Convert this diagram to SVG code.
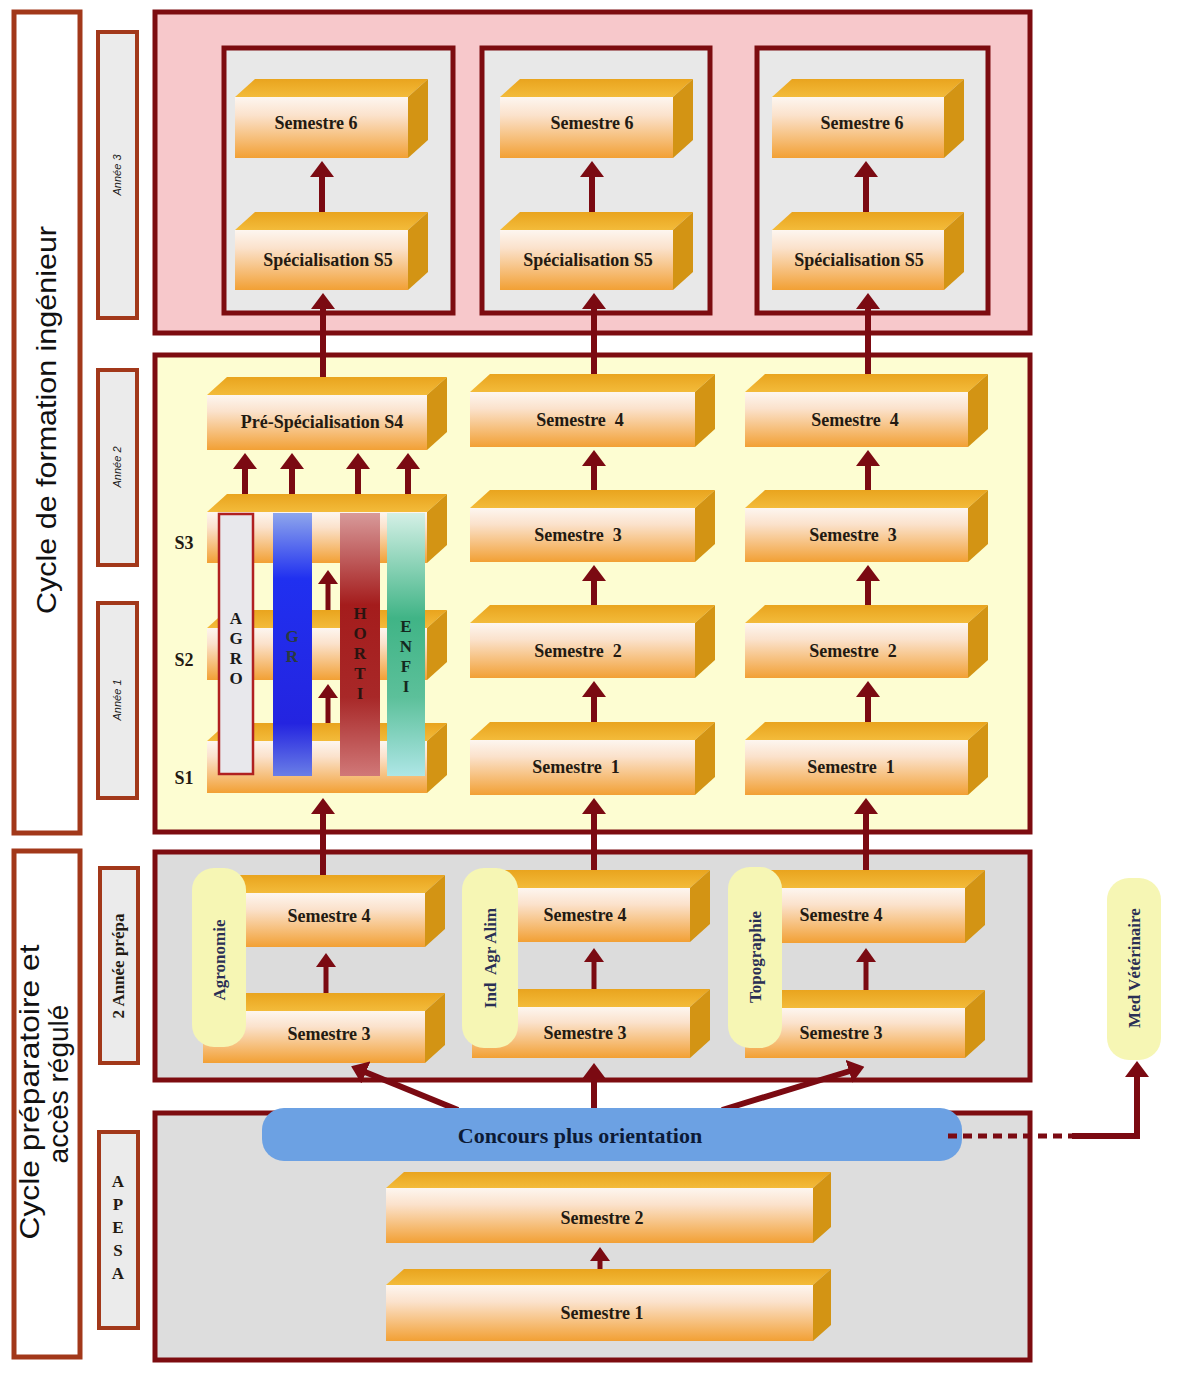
<svg xmlns="http://www.w3.org/2000/svg" width="1186" height="1395" viewBox="0 0 1186 1395">
<defs>
<linearGradient id="gFront" x1="0" y1="0" x2="0" y2="1">
<stop offset="0" stop-color="#fdf6f0"/><stop offset="0.3" stop-color="#fbe2cc"/><stop offset="1" stop-color="#f2a034"/>
</linearGradient>
<linearGradient id="gTop" x1="0" y1="0" x2="0" y2="1">
<stop offset="0" stop-color="#e9a41e"/><stop offset="1" stop-color="#f3bb3a"/>
</linearGradient>
<linearGradient id="gGR" x1="0" y1="0" x2="0" y2="1">
<stop offset="0" stop-color="#8ea6ec"/><stop offset="0.25" stop-color="#2030f0"/><stop offset="0.8" stop-color="#2424e0"/><stop offset="1" stop-color="#6a7ee6"/>
</linearGradient>
<linearGradient id="gHO" x1="0" y1="0" x2="0" y2="1">
<stop offset="0" stop-color="#d89a9a"/><stop offset="0.35" stop-color="#a41c1c"/><stop offset="0.7" stop-color="#a82828"/><stop offset="1" stop-color="#d07878"/>
</linearGradient>
<linearGradient id="gEN" x1="0" y1="0" x2="0" y2="1">
<stop offset="0" stop-color="#d4f0e6"/><stop offset="0.4" stop-color="#40b486"/><stop offset="0.7" stop-color="#5cc09a"/><stop offset="1" stop-color="#aee6e6"/>
</linearGradient>
<marker id="ah" viewBox="0 0 16 24" refX="1" refY="12" markerWidth="16" markerHeight="24" markerUnits="userSpaceOnUse" orient="auto">
<path d="M0,0 L16,12 L0,24 z" fill="#7b0a12"/>
</marker>
<marker id="ahs" viewBox="0 0 14 20" refX="1" refY="10" markerWidth="14" markerHeight="20" markerUnits="userSpaceOnUse" orient="auto">
<path d="M0,0 L14,10 L0,20 z" fill="#7b0a12"/>
</marker>
</defs>
<style>
.sec{stroke:#7d0c10;stroke-width:5}
.lab{fill:#ffffff;stroke:#a2381a;stroke-width:5}
.labs{fill:#ebebeb;stroke:#a2381a;stroke-width:4}
.front{fill:url(#gFront)}
.top{fill:url(#gTop)}
.side{fill:#d39414}
.bt{font-family:"Liberation Serif",serif;font-weight:bold;font-size:18px;fill:#231a12;text-anchor:middle;white-space:pre}
.big{font-family:"Liberation Sans",sans-serif;font-size:28px;fill:#111;text-anchor:middle}
.ann{font-family:"Liberation Sans",sans-serif;font-style:italic;font-size:11px;fill:#222;text-anchor:middle}
.pill{fill:#f6f6b4}
.pt{font-family:"Liberation Serif",serif;font-weight:bold;font-size:17px;fill:#2a2f55;text-anchor:middle;white-space:pre}
.ar{stroke:#7b0a12;stroke-width:6;fill:none;marker-end:url(#ah)}
.ars{stroke:#7b0a12;stroke-width:5;fill:none;marker-end:url(#ahs)}
.vt{font-family:"Liberation Serif",serif;font-weight:bold;font-size:17px;text-anchor:middle}
</style>
<rect width="1186" height="1395" fill="#ffffff"/>

<!-- left labels -->
<g id="lab-cycle-ing"><rect class="lab" x="14" y="12" width="66" height="821"/>
<text class="big" transform="translate(56,420) rotate(-90)" textLength="388" lengthAdjust="spacingAndGlyphs">Cycle de formation ingénieur</text></g>
<g id="lab-cycle-prep"><rect class="lab" x="14" y="851" width="66" height="506"/>
<text class="big" transform="translate(39,1092) rotate(-90)" textLength="295" lengthAdjust="spacingAndGlyphs">Cycle préparatoire et</text>
<text class="big" transform="translate(68,1084) rotate(-90)">accès régulé</text></g>
<g id="lab-annee3"><rect class="labs" x="98" y="32" width="39" height="286"/><text class="ann" transform="translate(121,175) rotate(-90)">Année 3</text></g>
<g id="lab-annee2"><rect class="labs" x="98" y="370" width="39" height="195"/><text class="ann" transform="translate(121,467) rotate(-90)">Année 2</text></g>
<g id="lab-annee1"><rect class="labs" x="98" y="603" width="39" height="195"/><text class="ann" transform="translate(121,700) rotate(-90)">Année 1</text></g>
<g id="lab-prepa"><rect class="labs" x="100" y="868" width="38" height="195"/><text class="vt" fill="#231a12" font-size="16" transform="translate(124,966) rotate(-90)">2 Année prépa</text></g>
<g id="lab-apesa"><rect class="labs" x="99" y="1132" width="39" height="196"/>
<text class="vt" fill="#231a12"><tspan x="118" y="1187">A</tspan><tspan x="118" y="1210">P</tspan><tspan x="118" y="1233">E</tspan><tspan x="118" y="1256">S</tspan><tspan x="118" y="1279">A</tspan></text></g>

<!-- sections -->
<g id="sec-annee3">
<rect class="sec" x="155" y="12" width="875" height="321" fill="#f7c8cb"/>
<rect class="sec" x="224" y="48" width="229" height="265" fill="#e8e8e8"/>
<rect class="sec" x="482" y="48" width="228" height="265" fill="#e8e8e8"/>
<rect class="sec" x="757" y="48" width="231" height="265" fill="#e8e8e8"/>
</g>
<rect id="sec-annee12" class="sec" x="155" y="355" width="875" height="477" fill="#fdfdd2"/>
<rect id="sec-prepa" class="sec" x="155" y="852" width="875" height="228" fill="#dcdcdc"/>
<rect id="sec-apesa" class="sec" x="155" y="1113" width="875" height="247" fill="#dddddd"/>

<!-- pink section boxes -->
<g id="c1-s6"><polygon class="top" points="235,97 255,79 428,79 408,97"/><polygon class="side" points="408,97 428,79 428,140 408,158"/><rect class="front" x="235" y="97" width="173" height="61"/><text class="bt" x="316" y="129">Semestre 6</text></g>
<g id="c1-s5"><polygon class="top" points="235,230 255,212 428,212 408,230"/><polygon class="side" points="408,230 428,212 428,272 408,290"/><rect class="front" x="235" y="230" width="173" height="60"/><text class="bt" x="328" y="266">Spécialisation S5</text></g>
<g id="c2-s6"><polygon class="top" points="500,97 520,79 693,79 673,97"/><polygon class="side" points="673,97 693,79 693,140 673,158"/><rect class="front" x="500" y="97" width="173" height="61"/><text class="bt" x="592" y="129">Semestre 6</text></g>
<g id="c2-s5"><polygon class="top" points="500,230 520,212 693,212 673,230"/><polygon class="side" points="673,230 693,212 693,272 673,290"/><rect class="front" x="500" y="230" width="173" height="60"/><text class="bt" x="588" y="266">Spécialisation S5</text></g>
<g id="c3-s6"><polygon class="top" points="772,97 792,79 964,79 944,97"/><polygon class="side" points="944,97 964,79 964,140 944,158"/><rect class="front" x="772" y="97" width="172" height="61"/><text class="bt" x="862" y="129">Semestre 6</text></g>
<g id="c3-s5"><polygon class="top" points="772,230 792,212 964,212 944,230"/><polygon class="side" points="944,230 964,212 964,272 944,290"/><rect class="front" x="772" y="230" width="172" height="60"/><text class="bt" x="859" y="266">Spécialisation S5</text></g>

<!-- yellow section col1 -->
<g id="c1-s3"><polygon class="top" points="207,512 227,494 447,494 427,512"/><polygon class="side" points="427,512 447,494 447,545 427,563"/><rect class="front" x="207" y="512" width="220" height="51"/></g>
<g id="c1-s2"><polygon class="top" points="207,628 227,610 447,610 427,628"/><polygon class="side" points="427,628 447,610 447,662 427,680"/><rect class="front" x="207" y="628" width="220" height="52"/></g>
<g id="c1-s1"><polygon class="top" points="207,741 227,723 447,723 427,741"/><polygon class="side" points="427,741 447,723 447,775 427,793"/><rect class="front" x="207" y="741" width="220" height="52"/></g>
<g id="c1-s4"><polygon class="top" points="207,395 227,377 447,377 427,395"/><polygon class="side" points="427,395 447,377 447,432 427,450"/><rect class="front" x="207" y="395" width="220" height="55"/><text class="bt" x="322" y="428">Pré-Spécialisation S4</text></g>
<g id="s-labels"><text class="bt" x="184" y="549">S3</text><text class="bt" x="184" y="666">S2</text><text class="bt" x="184" y="784">S1</text></g>
<g id="bar-agro"><rect x="219" y="514" width="34" height="260" fill="#e8e8ec" stroke="#b02020" stroke-width="2.5"/>
<text class="vt" fill="#1a1a1a"><tspan x="236" y="624">A</tspan><tspan x="236" y="644">G</tspan><tspan x="236" y="664">R</tspan><tspan x="236" y="684">O</tspan></text></g>
<g id="bar-gr"><rect x="273" y="513" width="39" height="263" fill="url(#gGR)"/>
<text class="vt" fill="#2a3a40"><tspan x="292" y="642">G</tspan><tspan x="292" y="662">R</tspan></text></g>
<g id="bar-horti"><rect x="340" y="513" width="40" height="263" fill="url(#gHO)"/>
<text class="vt" fill="#2a1410"><tspan x="360" y="619">H</tspan><tspan x="360" y="639">O</tspan><tspan x="360" y="659">R</tspan><tspan x="360" y="679">T</tspan><tspan x="360" y="699">I</tspan></text></g>
<g id="bar-enfi"><rect x="387" y="513" width="38" height="263" fill="url(#gEN)"/>
<text class="vt" fill="#14281e"><tspan x="406" y="632">E</tspan><tspan x="406" y="652">N</tspan><tspan x="406" y="672">F</tspan><tspan x="406" y="692">I</tspan></text></g>

<!-- yellow section col2 / col3 -->
<g id="c2-y4"><polygon class="top" points="470,392 490,374 715,374 695,392"/><polygon class="side" points="695,392 715,374 715,429 695,447"/><rect class="front" x="470" y="392" width="225" height="55"/><text class="bt" x="580" y="426">Semestre  4</text></g>
<g id="c2-y3"><polygon class="top" points="470,508 490,490 715,490 695,508"/><polygon class="side" points="695,508 715,490 715,544 695,562"/><rect class="front" x="470" y="508" width="225" height="54"/><text class="bt" x="578" y="541">Semestre  3</text></g>
<g id="c2-y2"><polygon class="top" points="470,623 490,605 715,605 695,623"/><polygon class="side" points="695,623 715,605 715,660 695,678"/><rect class="front" x="470" y="623" width="225" height="55"/><text class="bt" x="578" y="657">Semestre  2</text></g>
<g id="c2-y1"><polygon class="top" points="470,740 490,722 715,722 695,740"/><polygon class="side" points="695,740 715,722 715,777 695,795"/><rect class="front" x="470" y="740" width="225" height="55"/><text class="bt" x="576" y="773">Semestre  1</text></g>
<g id="c3-y4"><polygon class="top" points="745,392 765,374 988,374 968,392"/><polygon class="side" points="968,392 988,374 988,429 968,447"/><rect class="front" x="745" y="392" width="223" height="55"/><text class="bt" x="855" y="426">Semestre  4</text></g>
<g id="c3-y3"><polygon class="top" points="745,508 765,490 988,490 968,508"/><polygon class="side" points="968,508 988,490 988,544 968,562"/><rect class="front" x="745" y="508" width="223" height="54"/><text class="bt" x="853" y="541">Semestre  3</text></g>
<g id="c3-y2"><polygon class="top" points="745,623 765,605 988,605 968,623"/><polygon class="side" points="968,623 988,605 988,660 968,678"/><rect class="front" x="745" y="623" width="223" height="55"/><text class="bt" x="853" y="657">Semestre  2</text></g>
<g id="c3-y1"><polygon class="top" points="745,740 765,722 988,722 968,740"/><polygon class="side" points="968,740 988,722 988,777 968,795"/><rect class="front" x="745" y="740" width="223" height="55"/><text class="bt" x="851" y="773">Semestre  1</text></g>

<!-- prepa section -->
<g id="c1-p4"><polygon class="top" points="203,893 223,875 445,875 425,893"/><polygon class="side" points="425,893 445,875 445,929 425,947"/><rect class="front" x="203" y="893" width="222" height="54"/><text class="bt" x="329" y="922">Semestre 4</text></g>
<g id="c1-p3"><polygon class="top" points="203,1011 223,993 445,993 425,1011"/><polygon class="side" points="425,1011 445,993 445,1045 425,1063"/><rect class="front" x="203" y="1011" width="222" height="52"/><text class="bt" x="329" y="1040">Semestre 3</text></g>
<g id="pill-agro"><rect class="pill" x="192" y="868" width="54" height="179" rx="22"/><text class="pt" transform="translate(225,960) rotate(-90)">Agronomie</text></g>
<g id="c2-p4"><polygon class="top" points="472,888 492,870 710,870 690,888"/><polygon class="side" points="690,888 710,870 710,924 690,942"/><rect class="front" x="472" y="888" width="218" height="54"/><text class="bt" x="585" y="921">Semestre 4</text></g>
<g id="c2-p3"><polygon class="top" points="472,1007 492,989 710,989 690,1007"/><polygon class="side" points="690,1007 710,989 710,1040 690,1058"/><rect class="front" x="472" y="1007" width="218" height="51"/><text class="bt" x="585" y="1039">Semestre 3</text></g>
<g id="pill-ind"><rect class="pill" x="462" y="868" width="56" height="180" rx="22"/><text class="pt" transform="translate(496,958) rotate(-90)">Ind  Agr Alim</text></g>
<g id="c3-p4"><polygon class="top" points="745,888 765,870 985,870 965,888"/><polygon class="side" points="965,888 985,870 985,925 965,943"/><rect class="front" x="745" y="888" width="220" height="55"/><text class="bt" x="841" y="921">Semestre 4</text></g>
<g id="c3-p3"><polygon class="top" points="745,1008 765,990 985,990 965,1008"/><polygon class="side" points="965,1008 985,990 985,1040 965,1058"/><rect class="front" x="745" y="1008" width="220" height="50"/><text class="bt" x="841" y="1039">Semestre 3</text></g>
<g id="pill-topo"><rect class="pill" x="728" y="867" width="54" height="181" rx="22"/><text class="pt" transform="translate(761,957) rotate(-90)">Topographie</text></g>
<g id="pill-med"><rect class="pill" x="1107" y="878" width="54" height="182" rx="22"/><text class="pt" transform="translate(1140,968) rotate(-90)">Med Vétérinaire</text></g>

<!-- apesa -->
<g id="a-s2"><polygon class="top" points="386,1188 404,1172 831,1172 813,1188"/><polygon class="side" points="813,1188 831,1172 831,1227 813,1243"/><rect class="front" x="386" y="1188" width="427" height="55"/><text class="bt" x="602" y="1224">Semestre 2</text></g>
<g id="a-s1"><polygon class="top" points="386,1285 404,1269 831,1269 813,1285"/><polygon class="side" points="813,1285 831,1269 831,1325 813,1341"/><rect class="front" x="386" y="1285" width="427" height="56"/><text class="bt" x="602" y="1319">Semestre 1</text></g>

<!-- connectors -->
<g id="connectors">
<line class="ar" x1="322" y1="212" x2="322" y2="176"/>
<line class="ar" x1="592" y1="212" x2="592" y2="176"/>
<line class="ar" x1="866" y1="212" x2="866" y2="176"/>
<line class="ar" x1="323" y1="377" x2="323" y2="308"/>
<line class="ar" x1="594" y1="374" x2="594" y2="308"/>
<line class="ar" x1="868" y1="374" x2="868" y2="308"/>
<line class="ar" x1="245" y1="494" x2="245" y2="468"/>
<line class="ar" x1="292" y1="494" x2="292" y2="468"/>
<line class="ar" x1="358" y1="494" x2="358" y2="468"/>
<line class="ar" x1="408" y1="494" x2="408" y2="468"/>
<line class="ars" x1="328" y1="610" x2="328" y2="583"/>
<line class="ars" x1="328" y1="723" x2="328" y2="697"/>
<line class="ar" x1="594" y1="490" x2="594" y2="465"/>
<line class="ar" x1="594" y1="605" x2="594" y2="580"/>
<line class="ar" x1="594" y1="722" x2="594" y2="696"/>
<line class="ar" x1="868" y1="490" x2="868" y2="465"/>
<line class="ar" x1="868" y1="605" x2="868" y2="580"/>
<line class="ar" x1="868" y1="722" x2="868" y2="696"/>
<line class="ar" x1="323" y1="875" x2="323" y2="813"/>
<line class="ar" x1="594" y1="870" x2="594" y2="813"/>
<line class="ar" x1="866" y1="870" x2="866" y2="813"/>
<line class="ars" x1="326" y1="993" x2="326" y2="966"/>
<line class="ars" x1="594" y1="989" x2="594" y2="961"/>
<line class="ars" x1="866" y1="990" x2="866" y2="961"/>
<line class="ar" x1="458" y1="1110" x2="365" y2="1072"/>
<line class="ar" x1="594" y1="1110" x2="594" y2="1078"/>
<line class="ar" x1="722" y1="1110" x2="850" y2="1071"/>
<line class="ars" x1="600" y1="1269" x2="600" y2="1260"/>
</g>

<!-- concours -->
<g id="concours"><rect x="262" y="1108" width="700" height="53" rx="22" fill="#6ca1e3"/>
<text x="580" y="1143" font-family="Liberation Serif, serif" font-weight="bold" font-size="22" fill="#0c1a36" text-anchor="middle">Concours plus orientation</text></g>
<g id="conn-med">
<line x1="948" y1="1136" x2="1072" y2="1136" stroke="#7b0a12" stroke-width="5" stroke-dasharray="9,6"/>
<path d="M1072,1136 H1137 V1076" class="ar"/>
</g>
</svg>
